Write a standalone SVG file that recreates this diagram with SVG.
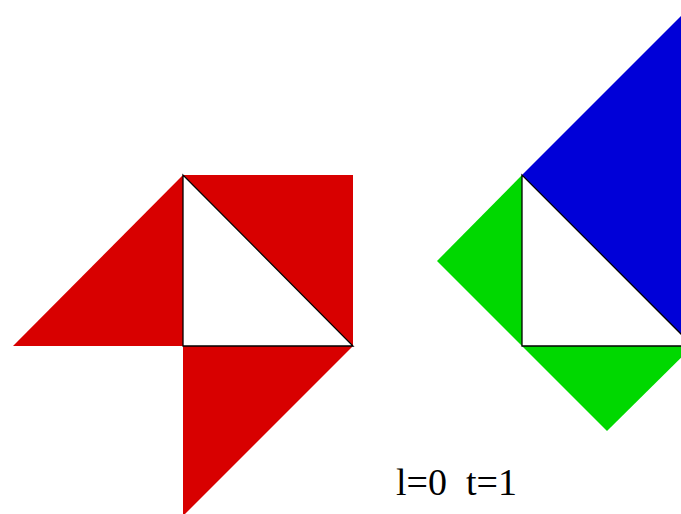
<svg xmlns="http://www.w3.org/2000/svg" width="681" height="514" viewBox="0 0 681 514">
<style>
.red{fill:#d80000}
.green{fill:#00d800}
.blue{fill:#0000d8}
.tri{fill:#fff;stroke:#000;stroke-width:1.3}
.lbl{font-family:"Liberation Serif",serif;font-size:38px;fill:#000}
</style>
<rect width="681" height="514" fill="#fff"/>
<g id="left">
<polygon class="red" points="13,346 183,175 183,346"/>
<polygon class="red" points="183,175 353,175 353,346"/>
<polygon class="red" points="183,346 353,346 183,516"/>
<polygon class="tri" points="183,175 183,346 353,346"/>
</g>
<g id="right">
<polygon class="green" points="437,261 522,175 522,346"/>
<polygon class="green" points="522,346 693,346 607,431"/>
<polygon class="blue" points="522,175 693,4 864,175 693,346"/>
<polygon class="tri" points="522,175 522,346 693,346"/>
</g>
<g id="label">
<text class="lbl" x="396" y="495">l=0</text>
<text class="lbl" x="466" y="495">t=1</text>
</g>
</svg>
